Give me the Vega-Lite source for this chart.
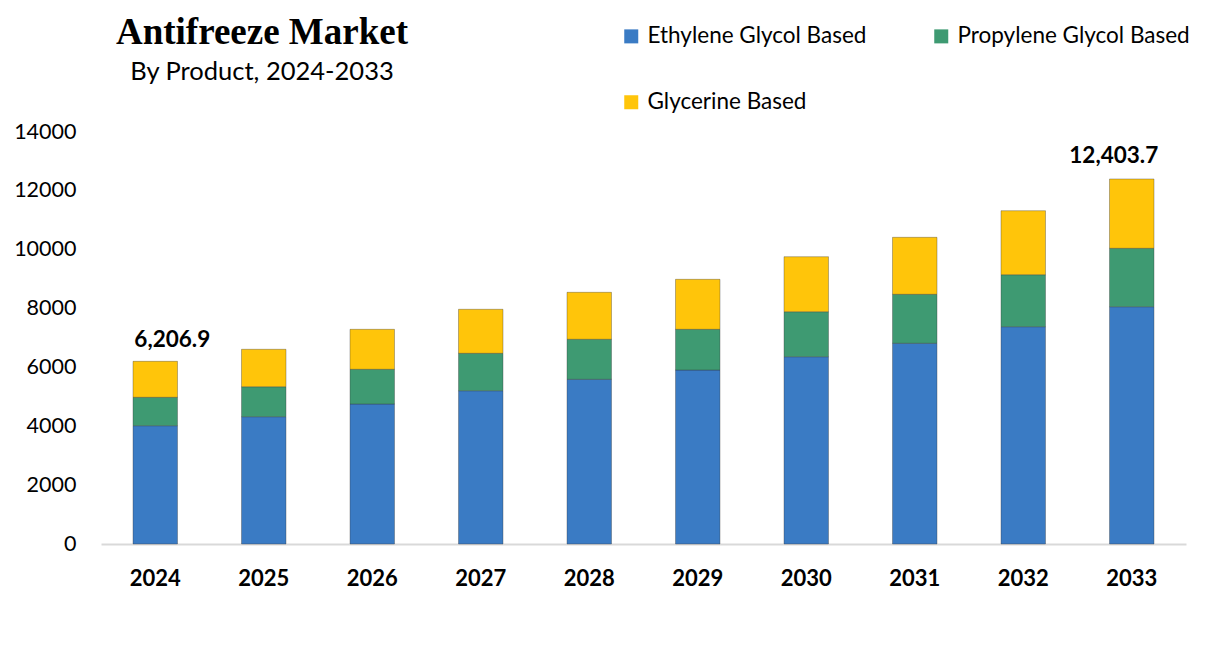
{
  "$schema": "https://vega.github.io/schema/vega-lite/v6.json",
  "autosize": {"type": "none"},
  "padding": {"left": 101, "top": 132, "right": 30, "bottom": 119},
  "width": 1085,
  "height": 412,
  "background": "white",
  "title": {
    "text": "Antifreeze Market",
    "subtitle": "By Product, 2024-2033",
    "anchor": "start",
    "align": "center",
    "frame": "group",
    "dx": 161,
    "offset": -61,
    "font": "Liberation Serif",
    "fontSize": 37,
    "fontWeight": "bold",
    "color": "#000000",
    "subtitleFont": "Lato",
    "subtitleFontSize": 25.5,
    "subtitleColor": "#000000",
    "subtitlePadding": 8
  },
  "data": {
    "values": [
      {"Year": "2024", "Product": "Ethylene Glycol Based", "Rank": 1, "Value": 4020},
      {"Year": "2024", "Product": "Propylene Glycol Based", "Rank": 2, "Value": 965},
      {"Year": "2024", "Product": "Glycerine Based", "Rank": 3, "Value": 1221.9},
      {"Year": "2025", "Product": "Ethylene Glycol Based", "Rank": 1, "Value": 4326},
      {"Year": "2025", "Product": "Propylene Glycol Based", "Rank": 2, "Value": 1019},
      {"Year": "2025", "Product": "Glycerine Based", "Rank": 3, "Value": 1271},
      {"Year": "2026", "Product": "Ethylene Glycol Based", "Rank": 1, "Value": 4757},
      {"Year": "2026", "Product": "Propylene Glycol Based", "Rank": 2, "Value": 1179},
      {"Year": "2026", "Product": "Glycerine Based", "Rank": 3, "Value": 1359},
      {"Year": "2027", "Product": "Ethylene Glycol Based", "Rank": 1, "Value": 5209},
      {"Year": "2027", "Product": "Propylene Glycol Based", "Rank": 2, "Value": 1271},
      {"Year": "2027", "Product": "Glycerine Based", "Rank": 3, "Value": 1495},
      {"Year": "2028", "Product": "Ethylene Glycol Based", "Rank": 1, "Value": 5596},
      {"Year": "2028", "Product": "Propylene Glycol Based", "Rank": 2, "Value": 1360},
      {"Year": "2028", "Product": "Glycerine Based", "Rank": 3, "Value": 1596},
      {"Year": "2029", "Product": "Ethylene Glycol Based", "Rank": 1, "Value": 5912},
      {"Year": "2029", "Product": "Propylene Glycol Based", "Rank": 2, "Value": 1383},
      {"Year": "2029", "Product": "Glycerine Based", "Rank": 3, "Value": 1699},
      {"Year": "2030", "Product": "Ethylene Glycol Based", "Rank": 1, "Value": 6364},
      {"Year": "2030", "Product": "Propylene Glycol Based", "Rank": 2, "Value": 1529},
      {"Year": "2030", "Product": "Glycerine Based", "Rank": 3, "Value": 1869},
      {"Year": "2031", "Product": "Ethylene Glycol Based", "Rank": 1, "Value": 6820},
      {"Year": "2031", "Product": "Propylene Glycol Based", "Rank": 2, "Value": 1665},
      {"Year": "2031", "Product": "Glycerine Based", "Rank": 3, "Value": 1936},
      {"Year": "2032", "Product": "Ethylene Glycol Based", "Rank": 1, "Value": 7384},
      {"Year": "2032", "Product": "Propylene Glycol Based", "Rank": 2, "Value": 1767},
      {"Year": "2032", "Product": "Glycerine Based", "Rank": 3, "Value": 2174},
      {"Year": "2033", "Product": "Ethylene Glycol Based", "Rank": 1, "Value": 8063},
      {"Year": "2033", "Product": "Propylene Glycol Based", "Rank": 2, "Value": 1985},
      {"Year": "2033", "Product": "Glycerine Based", "Rank": 3, "Value": 2355.7}
    ]
  },
  "encoding": {
    "x": {
      "field": "Year",
      "type": "ordinal",
      "title": null,
      "scale": {"paddingInner": 0.59, "paddingOuter": 0.295},
      "axis": {
        "labelAngle": 0,
        "labelFont": "Lato",
        "labelFontSize": 22,
        "labelFontWeight": "bold",
        "labelColor": "#000000",
        "labelPadding": 24,
        "ticks": false,
        "domainColor": "#d9d9d9",
        "domainWidth": 2
      }
    }
  },
  "layer": [
    {
      "mark": {"type": "bar", "stroke": "#333333", "strokeOpacity": 0.35, "strokeWidth": 1},
      "encoding": {
        "y": {
          "field": "Value",
          "type": "quantitative",
          "stack": "zero",
          "title": null,
          "scale": {"domain": [0, 14000], "nice": false},
          "axis": {
            "values": [0, 2000, 4000, 6000, 8000, 10000, 12000, 14000],
            "format": "d",
            "grid": false,
            "domain": false,
            "ticks": false,
            "labelFont": "Lato",
            "labelFontSize": 21.5,
            "labelColor": "#000000",
            "labelPadding": 25
          }
        },
        "color": {
          "field": "Product",
          "type": "nominal",
          "sort": ["Ethylene Glycol Based", "Propylene Glycol Based", "Glycerine Based"],
          "scale": {
            "domain": ["Ethylene Glycol Based", "Propylene Glycol Based", "Glycerine Based"],
            "range": ["#3a7bc4", "#3e9a72", "#ffc50a"]
          },
          "legend": {
            "title": null,
            "orient": "none",
            "legendX": 519,
            "legendY": -107,
            "direction": "horizontal",
            "columns": 2,
            "columnPadding": 63,
            "rowPadding": 43,
            "symbolType": "square",
            "symbolSize": 196,
            "symbolStrokeWidth": 0,
            "labelFont": "Lato",
            "labelFontSize": 22.5,
            "labelColor": "#000000",
            "labelOffset": 5,
            "labelLimit": 400
          }
        },
        "order": {"field": "Rank", "type": "quantitative"}
      }
    },
    {
      "transform": [{"filter": "datum.Year == '2024'"}],
      "mark": {"type": "text", "font": "Lato", "fontSize": 22.5, "fontWeight": "bold", "color": "#000000", "baseline": "alphabetic", "dx": 17, "dy": -14},
      "encoding": {
        "y": {"aggregate": "sum", "field": "Value", "type": "quantitative"},
        "text": {"aggregate": "sum", "field": "Value", "type": "quantitative", "format": ",.1f"}
      }
    },
    {
      "transform": [{"filter": "datum.Year == '2033'"}],
      "mark": {"type": "text", "font": "Lato", "fontSize": 22.5, "fontWeight": "bold", "color": "#000000", "baseline": "alphabetic", "dx": -18, "dy": -16},
      "encoding": {
        "y": {"aggregate": "sum", "field": "Value", "type": "quantitative"},
        "text": {"aggregate": "sum", "field": "Value", "type": "quantitative", "format": ",.1f"}
      }
    }
  ],
  "config": {
    "view": {"stroke": null}
  }
}
